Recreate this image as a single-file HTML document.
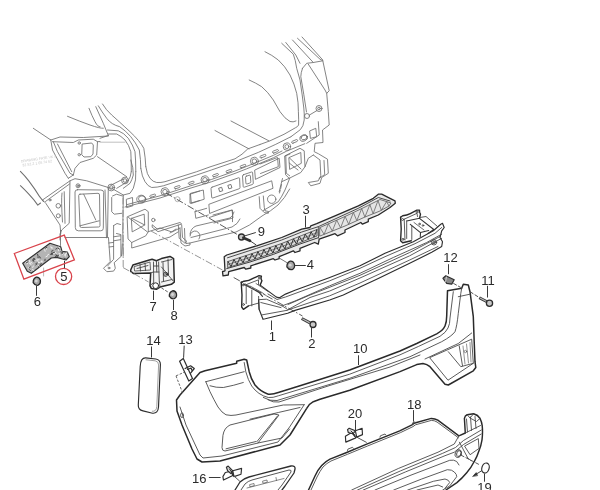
<!DOCTYPE html>
<html><head><meta charset="utf-8"><title>Rear bumper parts diagram</title>
<style>
html,body{margin:0;padding:0;background:#fff;}
body{width:600px;height:490px;overflow:hidden;position:relative;font-family:"Liberation Sans",sans-serif;}
svg{position:absolute;left:0;top:0;display:block;will-change:transform}
.b path,.b circle,.b ellipse,.b rect{fill:none;stroke:#6e6e6e;stroke-width:0.85;stroke-linecap:round;stroke-linejoin:round}
.m path,.m circle,.m ellipse,.m rect{fill:none;stroke:#4a4a4a;stroke-width:0.9;stroke-linecap:round;stroke-linejoin:round}
.m path.k{stroke:#2a2a2a;stroke-width:1.4}
.d path,.d circle,.d ellipse,.d rect{fill:none;stroke:#2e2e2e;stroke-width:1.1;stroke-linecap:round;stroke-linejoin:round}
.dash path{fill:none;stroke:#4a4a4a;stroke-width:0.9;stroke-dasharray:7 2 1.5 2}
.ld path{fill:none;stroke:#3a3a3a;stroke-width:1}
.r path,.r circle{fill:none;stroke:#d9434b;stroke-width:1.3}
text{font-family:"Liberation Sans",sans-serif;font-size:13px;fill:#2a2a2a;text-anchor:middle}
text.wm{font-size:3.6px;fill:#c4c4c4;text-anchor:start}
</style></head><body>
<svg width="600" height="490" viewBox="0 0 600 490">
<!-- 01_body_left.svgfrag -->
<g class="b">
<!-- quarter panel free lines -->
<path d="M33.3,128.3 L50.8,140"/>
<path d="M67.5,116.3 Q80,121.5 90,125 T103.3,128.3"/>
<path d="M89,108.3 Q92,116 95,121.7 T100,126.7"/>
<path d="M95.8,106.7 L103.3,123.3 L108.3,135.5"/>
<path d="M98.3,105.8 Q102,112 106.7,118.3 T119.7,126.7 Q132,135 139.3,150 Q140.8,160 140.8,168.3"/>
<path d="M102.5,104 Q106,110 111.7,115 T130,131.7 Q140,141 143.8,148.3 Q145.5,158 145.8,166.7"/>
<path d="M107.5,130 L118.3,130.8 Q124,133 128.3,138.3 Q133,145 135,151.7 Q135.8,160 135.8,171.7"/>
<path d="M108.3,134 L116.7,134 Q121,136 125,140 Q129,145 130.8,151.7 Q131.3,160 131.3,171.7"/>
<path d="M108.3,135.5 L100,138.3"/>
<path d="M100,142.2 L125,142.2" style="stroke:#b5b5b5"/>
<!-- bracket (upper) -->
<path d="M50.8,140 L60,137 L83.3,137.5 L108.3,136"/>
<path d="M52.5,141.7 L73.3,142.5 L78.3,140 L93.3,139.2 L97.5,141.7 L100,141.5"/>
<path d="M97.5,141.7 L96.7,155 L93.3,158.3 L80,162.5 L75,168.3 L73.3,175"/>
<path d="M97.5,156.7 L126.7,176.7"/>
<path d="M50.8,140 L52.5,150 L65,173.3 L68.3,178.3"/>
<path d="M53.3,141.7 L57.5,151.7 L70,173.3 L73.3,175"/>
<path d="M57.5,144 L71.7,171.7"/>
<path d="M68.3,178.3 L73.3,175"/>
<path d="M82.5,144 L91.7,143 L93.3,145 L93,154 L90.8,156.7 L84,157 L82,155 Z"/>
<circle cx="79.2" cy="143" r="1.2"/><circle cx="79.2" cy="154.7" r="1.2"/>
<!-- lower left arcs -->
<path d="M20.4,171.4 Q25,176 28.6,180.6 Q35,189 39.8,196.9 L43.5,201.5" style="stroke-width:1.05"/>
<path d="M20.4,185.7 Q25,190 28.6,193.9 Q33.5,199 37.8,205.1 L40.5,203" style="stroke-width:1.05"/>
<!-- tail light panel -->
<path d="M42.5,200 L70,180.8 L75,178.7 L86.7,180.8 L108.3,187.5 L111.7,188.3 L123.3,195 L122.8,230"/>
<path d="M45.5,201.5 L69.5,184"/>
<path d="M70,180.8 L69.2,223.3 L61.7,230 L60,234 L60,240"/>
<path d="M42.5,200 L45.8,203.3 L60,225 L60.8,233.3"/>
<path d="M77.5,189.7 L100.8,190 Q103.7,190 103.7,192.5 L103.3,228.3 Q103.3,230.8 100.8,230.8 L78.3,230.8 Q75.3,230.8 75.3,227.5 L75,192 Q75,189.7 77.5,189.7Z"/>
<path d="M80,194.2 L98,193.3 Q99.5,193.3 99.5,195 L100,225.5 Q100,227 98.5,227 L81.5,227.5 Q80,227.5 80,226 L78.7,195.5 Q78.7,194.2 80,194.2Z"/>
<path d="M83.7,194.2 L95.8,220"/>
<path d="M80,225.8 L99.2,220.8"/>
<path d="M108.3,187.5 L107.5,236.7"/>
<path d="M65.0,237.5 L108.3,237.5"/>
<path d="M112.5,196 L116.5,194.2 L122.5,196"/>
<path d="M111.7,197.5 L111.7,211.7 L114.2,214.2 L121.7,213.3"/>
<circle cx="78" cy="185.8" r="2"/><circle cx="78" cy="185.8" r="0.8"/>
<circle cx="111.3" cy="187.5" r="3.4"/><circle cx="111.3" cy="187.5" r="1.8"/>
<circle cx="125" cy="180.5" r="3.4"/><circle cx="125" cy="180.5" r="1.8"/>
<path d="M111.3,185 L123.3,179"/>
<circle cx="58.3" cy="205.8" r="2.3"/><circle cx="58.3" cy="215.8" r="2"/>
<circle cx="50" cy="200" r="1"/>
<path d="M64.2,191.7 L65,223.3"/>
<path d="M62,193 Q61,200 62.5,222"/>
<!-- pillar lower sweep -->
<path d="M130.8,160 Q133.5,168 133.3,175 Q132,180 130,183.3 L123.3,188.3"/>
</g>
<g transform="rotate(-8 21 162.5)"><text class="wm" x="21" y="162.5">DRAWING FATE VK 8</text><text class="wm" x="22" y="166.7">32 52.2 1 05 74 52</text></g>

<!-- 02_rear_panel.svgfrag -->
<g class="b">
<!-- left pillar bottoms merging into panel -->
<path d="M131.3,171.7 Q131,177 127.5,181.7 L116.7,188.3"/>
<path d="M135.8,171.7 Q136.5,180 133.3,188.3 L130,193.3 L123.3,195"/>
<path d="M145.8,166.7 Q147,175 150,178.3 Q153,182 156.7,182.5 Q161,182.8 165,181.7 L196.7,171.7 L210,166.9 L235,158.8 L242,154.2 L247.8,148.9 L260,144.5"/>
<path d="M140.8,168.3 Q142,177 145,181.7 Q148,186.5 151.7,187.5 Q157,187.5 163.3,185.8 L196.7,175 L211.7,169.9 L235,161.8 L258.3,152.4 L275.8,144.3 L291,136.7"/>
<!-- diagonal roof/glass lines -->
<path d="M215,130.5 L249,148.9"/>
<path d="M231,121 L268.8,140.8"/>
<!-- lower edge of upper strip -->
<path d="M127,204.6 L160,195.8 L190,186 L211.7,179.4 L235,171 L246.7,166.4 L273.5,155.3 L282,151"/>
<path d="M125,207 L160,198 L190,188.3 L211.7,181.7 L235,173.4 L246.7,168.8 L273.5,157.7 L286.3,151.3 L304.8,143.7"/>
<!-- circles on strip -->
<circle cx="165" cy="191.7" r="4"/><circle cx="165" cy="191.7" r="2.3"/>
<circle cx="205" cy="179.8" r="4"/><circle cx="205" cy="179.8" r="2.3"/>
<circle cx="254.4" cy="161.2" r="4"/><circle cx="254.4" cy="161.2" r="2.3"/>
<circle cx="286.9" cy="146.6" r="3.7"/><circle cx="286.9" cy="146.6" r="2"/>
<ellipse cx="141.3" cy="199.2" rx="4.6" ry="4"/><ellipse cx="142" cy="198.8" rx="3.5" ry="3"/>
<path d="M126.7,199.2 L132.5,197.5 L132.8,205.8 L127,207.5Z"/>
<!-- slots -->
<g style="stroke-width:0.7">
<path d="M151,197.3 l4,-1.3 a1,1 0 0 0 -0.6,-1.9 l-4,1.3 a1,1 0 0 0 0.6,1.9z"/>
<path d="M175.5,188.8 l4,-1.3 a1,1 0 0 0 -0.6,-1.9 l-4,1.3 a1,1 0 0 0 0.6,1.9z"/>
<path d="M189.5,184.4 l4,-1.3 a1,1 0 0 0 -0.6,-1.9 l-4,1.3 a1,1 0 0 0 0.6,1.9z"/>
<path d="M213.8,176.8 l4,-1.4 a1,1 0 0 0 -0.6,-1.9 l-4,1.4 a1,1 0 0 0 0.6,1.9z"/>
<path d="M227.2,172.7 l4,-1.4 a1,1 0 0 0 -0.6,-1.9 l-4,1.4 a1,1 0 0 0 0.6,1.9z"/>
<path d="M241.3,167.8 l4,-1.5 a1,1 0 0 0 -0.6,-1.9 l-4,1.5 a1,1 0 0 0 0.6,1.9z"/>
<path d="M261.3,157.9 l4,-1.6 a1,1 0 0 0 -0.7,-1.9 l-4,1.6 a1,1 0 0 0 0.7,1.9z"/>
<path d="M273.8,153.1 l4,-1.6 a1,1 0 0 0 -0.7,-1.9 l-4,1.6 a1,1 0 0 0 0.7,1.9z"/>
<path d="M293,143.2 l4,-1.7 a1,1 0 0 0 -0.7,-1.9 l-4,1.7 a1,1 0 0 0 0.7,1.9z"/>
</g>
<!-- rectangles on panel -->
<path d="M190.8,193.3 L203.3,190 L204.2,199.2 L191.7,203.3Z"/>
<path d="M212,187.2 L238.5,177.8 Q239.5,177.5 239.6,178.5 L240,187.5 Q240,188.5 239,188.8 L212.8,198 Q211.8,198.3 211.7,197.3 L211,188.5 Q211,187.5 212,187.2Z"/>
<rect x="219.5" y="187.6" width="2.8" height="3.6" transform="rotate(-18 221 189.5)"/>
<rect x="228.7" y="184.8" width="2.8" height="3.6" transform="rotate(-18 230 186.7)"/>
<path d="M243.5,174.7 L251.5,172 Q252.5,171.7 252.6,172.7 L253.3,183.2 Q253.3,184.2 252.3,184.5 L244.3,187.2 Q243.3,187.5 243.2,186.5 L242.5,176 Q242.5,175 243.5,174.7Z"/>
<path d="M246.3,176.2 L249.3,175.2 Q250.3,175 250.4,176 L250.8,181.8 Q250.8,182.8 249.8,183 L247,184 Q246,184.2 245.9,183.2 L245.5,177.3 Q245.5,176.5 246.3,176.2Z"/>
<path d="M255,170 L279.2,158.3 L280,167.5 L255.8,179.2Z"/>
<path d="M285.8,155.8 L290,154 M285.8,155.8 L286.3,173.3 L289.7,175.8"/>
<path d="M209.2,204.2 L271.7,180.8 L273,188.3 L210,213.3Z"/>
<path d="M195,211.7 L206.7,208.3 M195,211.7 L195.8,218.3 L208.3,215"/>
<path d="M209.2,217.5 L232.5,210 L232.5,221.7"/>
<circle cx="271.7" cy="199.2" r="4.2"/>
<circle cx="177.5" cy="199.2" r="2.5" style="stroke:#a5a5a5"/>
<path d="M259.2,196.7 L260,208.3 L264.2,212.5 L268.3,213.3 L268.5,211.5 L265,210.8 L264.3,207.5 L263.3,196"/>
<path d="M289.7,178.3 Q287.5,184 285,190 Q282,196.5 278.3,201.7 L263.3,210.5"/>
<path d="M282.5,178.5 l-0.8,3 M281.5,184.5 l-0.8,4 M280.3,190 l-0.8,3"/>
<!-- left square recess on panel -->
<path d="M127.5,216.7 L145,209.2 L148.3,211.7 L148.3,231.7 L145.8,235.8 L131.7,242.5 L128.3,239.2Z"/>
<path d="M131.7,218.3 L144.2,214.2 L144.7,225 L132.5,231.7Z"/>
<path d="M128.5,217.5 L147.5,232 M131.7,218.3 L144.7,225"/>
<!-- hook bracket -->
<circle cx="153.3" cy="220" r="1.7"/>
<path d="M152.5,225 L157.5,229.2 L180,222.5 L181.7,224 L158,231.7 L152.5,227.5Z"/>
<path d="M178.3,225 L179.2,238.3 L185,243.3 L187,241.5 L182.5,237.5 L181.7,225"/>
<!-- bottom right partial circle -->
<path d="M190,236 a5,5 0 1 1 9,3"/>
<path d="M190,194.2 L199.7,191 M190,194.2 L190,203.3 L199.7,200.5"/>
<!-- vertical left lower panel -->
<path d="M105,190 L106.5,237.8 M108.5,238 L110.2,261.6 L103.5,268.3 L106.9,271.7 L113.6,271.1 L115.3,268.3 L114.2,262.7 L121.5,256 L122.3,244"/>
<path d="M113.6,225.6 L113.6,259.3 L107.5,266 M113.6,225.6 L117,223.5 L120.5,224.5 M116.5,233.5 L120.9,234.6 L120.9,256 M108.8,243 L113.6,242.4 M109.2,247 L113.6,246.4 M113.6,236.8 L120.5,235.8 M113.6,240.8 L120.5,239.7"/>
<circle cx="109" cy="268" r="0.9"/>
<path d="M122.8,230 L123.2,256"/>
<!-- right area: big curves -->
<path d="M265,51.7 Q272,55 278.3,60 Q285,66 290,75 Q294.5,84 296.7,93.3 Q298.5,103 298.4,111.7 Q298.8,120 298.6,125 Q297.5,127 295.7,127.6 L284,134.3 L270,140.8 L260,144.5"/>
<path d="M281.7,43.3 L293.3,54.2 Q295.5,60 296.7,68.3 L300,80 Q302.5,96 303.8,108 Q304.5,114 304.2,120 Q303.5,126.5 300.3,129.7 L291,136.7"/>
<path d="M249.2,80 Q256,83 261.7,86.7 Q268,92 273.3,100 L280,111.7 Q285,119 290,121.5 Q293,122.5 296,121"/>
<!-- right pillar -->
<path d="M302.5,68.3 Q300.8,73 300.8,76.7 Q304,95 306.5,112"/>
<path d="M285.8,42.5 L295.8,55 L300,63.3"/>
<path d="M292.5,40 L313.3,62.5"/>
<path d="M297.5,38.3 L320,59.2 L322.8,60.8"/>
<path d="M302,37 L322.8,60"/>
<path d="M302.5,68.3 L306.7,63.3 L313.3,62.5 L322.8,60.8 L329.2,90.8 L326.7,93.3 L328.3,111.7 L329.2,125 L322.5,130 L323,142.5 L315,143.3 L314.2,151.7 L318.3,153.7 L327.5,159.2 L328.3,173.3 L321.7,177.5 L320,183.3 L310.8,185.8 L308.3,182.5 L318.3,180.8 L320.8,175.8 L320,160 L313.3,155"/>
<path d="M308.3,64.2 L325,90 L326.7,93.3"/>
<path d="M318.3,121.7 L319.2,135 L306.7,143.3"/>
<path d="M324,160.5 L324.7,174.5 L319,178.5"/>
<circle cx="319" cy="108.5" r="3"/><circle cx="319" cy="108.5" r="1.3"/>
<circle cx="307" cy="116" r="2.5"/>
<path d="M309.5,115 L317,110.5"/>
<path d="M310,130.8 L315.8,128.3 L316.7,136.7 L310.8,138.3Z"/>
<ellipse cx="303.7" cy="138" rx="4" ry="3" transform="rotate(-20 303.7 138)"/>
<ellipse cx="304.3" cy="137.6" rx="3" ry="2.2" transform="rotate(-20 303.7 138)"/>
<!-- right square recess -->
<path d="M285,155.8 L300,148.3 L304.2,150.8 L305,166.7 L300.8,172.5 L289.2,178.3 L285.8,175Z"/>
<path d="M289.2,157.5 L300.8,152.5 L301.3,163.3 L290,169.2Z"/>
<path d="M289.5,158 L301,169 M289.2,163 L298,170"/>
<path d="M260,164 L277.5,157.5 L278.3,166.7 L260.5,173.5"/>
<path d="M289.2,178.3 L281.7,181.7 L279.2,191.7"/>
<path d="M305,166.7 L308.3,158.3 L313.3,155"/>
</g>

<!-- 03_panel_bottom.svgfrag -->
<g class="b">
<path d="M148.3,231.7 L160,228 L172,232 L180,228"/>
<path d="M131.7,242.5 L131.7,248 L170,237 L178,232"/>
<path d="M190,243 L236,232 Q250,226 262,216 Q271,211 278,205 Q285,198 289.7,189"/>
<path d="M190,234 Q191,228 196,226 L230,218 Q233,216 234,212"/>
<path d="M191,237.5 L232,227 Q238,224 240,219"/>
<path d="M180,228 L181,243 L185,246 L190,245 L190,243 L186,243.5 L185,241 L184.5,228.5"/>
<path d="M213,215 L232,210 L233,218 L214,223"/>
<path d="M170,233 L176,229"/>
</g>
<g class="dash">
<path d="M166,193 L239,235.5"/>
<path d="M151,231 L222.5,270" style="stroke:#8a8a8a"/>
<path d="M123,197.5 L123.2,267.5" style="stroke:#8a8a8a"/>
<path d="M233.7,277.5 L302.5,316"/>
</g>

<!-- 04_part5.svgfrag -->
<g class="b">
<path d="M60.5,230.5 L60.5,245.5"/>
<path d="M43.6,268 L43.6,276" style="stroke:#aaa"/>
</g>
<g class="d">
<path d="M22.7,263.3 L50,243.3 L60.7,246.7 L62,251.3 L67.3,252 L69.3,256.7 L66,260 L56.7,257.3 L51.3,258 L31.3,273.3 L27.3,271.3Z" style="fill:#b4b4b4;stroke:#333;stroke-width:1.2"/>
<path d="M58.8,249.1 l-0.2,1.6 M26.6,261.1 l-0.8,1.4 M46.2,247.7 l0.1,1.6 M41.7,260.8 l0.3,1.6 M35.4,258.8 l0.1,1.6 M31.2,262.0 l1.0,1.2 M38.7,265.5 l0.9,1.4 M33.3,266.0 l-0.6,1.5 M59.1,253.6 l1.0,1.3 M29.4,263.6 l1.4,0.7 M59.9,255.7 l-1.6,0.1 M44.7,249.7 l0.4,1.5 M32.4,269.6 l1.4,0.7 M66.8,252.7 l-0.8,1.4 M55.0,253.0 l-1.5,0.5 M50.9,246.6 l0.7,1.5 M48.7,254.3 l-1.3,1.0 M47.3,256.1 l-1.4,0.7 M29.4,269.7 l1.4,0.8 M39.0,259.6 l-1.5,0.5 M36.9,259.1 l0.1,1.6 M63.3,253.5 l-1.2,1.1 M59.4,253.5 l-0.8,1.4 M28.2,267.7 l1.4,0.8 M65.5,253.8 l-0.4,1.6 M38.1,262.0 l1.5,0.5 M30.2,262.6 l0.8,1.4 M29.6,260.3 l0.0,1.6 M28.0,262.5 l-0.8,1.4 M62.7,252.2 l-1.6,0.4 M42.3,261.3 l-1.5,0.5 M55.2,252.1 l1.2,1.1 M38.5,262.4 l-1.6,0.0 M64.9,254.6 l0.5,1.5 M61.0,251.0 l0.4,1.5 M52.3,254.2 l-1.6,0.2 M51.1,247.7 l1.6,0.3 M58.8,247.1 l1.2,1.1" style="stroke:#f2f2f2;stroke-width:0.9;fill:none"/>
<path d="M30.2,266.9 l-0.8,1.3 M33.9,258.9 l1.3,0.7 M46.8,247.4 l-1.3,0.7 M29.5,269.6 l1.0,1.1 M41.5,263.8 l-1.4,0.6 M37.6,254.3 l0.4,1.5 M33.1,259.4 l0.1,1.5 M57.1,248.3 l-1.3,0.8 M27.9,262.0 l-1.4,0.4 M37.4,262.8 l-1.4,0.5 M53.0,250.6 l-1.4,0.6 M54.5,252.3 l-1.4,0.5 M52.7,253.1 l-1.3,0.7 M60.9,251.5 l0.5,1.4 M36.9,264.0 l-1.2,0.9 M55.2,256.2 l1.3,0.8 M58.6,254.9 l-0.6,1.4 M62.7,252.3 l-0.6,1.4 M33.5,258.8 l1.5,0.1 M64.0,258.2 l1.4,0.5 M39.1,257.1 l-1.5,0.0 M58.2,248.2 l1.2,0.9 M51.9,254.3 l-1.5,0.0 M45.1,259.2 l-0.2,1.5 M40.0,265.7 l-1.3,0.7 M32.8,260.4 l1.2,0.9 M51.7,253.0 l0.6,1.4 M55.8,254.9 l1.4,0.6 M39.7,256.7 l0.7,1.3 M56.4,255.7 l1.4,0.5" style="stroke:#3a3a3a;stroke-width:0.9;fill:none"/>
<path d="M33.2,282.7 Q33.0,278.6 36.3,277.2 Q39.5,277.0 40.4,280.4 Q40.8,284.0 38.1,285.2 Q35.0,285.8 33.2,282.7Z" style="fill:#a8a8a8;stroke:#2a2a2a;stroke-width:1.3"/><circle cx="36.3" cy="281.0" r="1.4" style="fill:#d8d8d8;stroke:none"/>
</g>
<g class="ld">
<path d="M36.5,285.7 L36.5,295.8"/>
<path d="M64.5,260.8 L64.5,268.4"/>
</g>
<g class="r">
<path d="M14.3,253.5 L64.3,235.1 L74.4,259.9 L23.9,279.2Z"/>
<circle cx="63.6" cy="276.4" r="8.1"/>
</g>
<text x="63.8" y="281">5</text>
<text x="37.3" y="306.1">6</text>

<!-- 05_part7.svgfrag -->
<g class="d">
<path d="M130.7,270 L132.9,265 L149.3,260 L152.1,259.3 L156.4,260.7 L161.4,258.6 L170,256.4 L173.6,258.6 L174.3,282.1 L171.4,284.3 L160,287.1 L156.4,289.3 L151.4,288.6 L150,285.7 L150.7,272.9 L133.6,273.6 L130.7,271.4Z" style="stroke-width:1.5;stroke:#2b2b2b;fill:#f3f3f3"/>
<path d="M134.5,266.5 L150,262 L150.5,270 L135,271Z" style="stroke-width:0.9;stroke:#555"/>
<path d="M137,268.5 L148,265.5 M153.5,262 L153.7,285 M158.6,262 L159.3,282.1 M161.5,267 L172.9,280.7 M161.4,262 L172,259.5 M161.5,282 L172,279.5 M154,272 L159,272" style="stroke-width:0.9;stroke:#4a4a4a"/>
<path d="M150.7,272.9 L153.5,272 M156.4,260.7 L156.8,272 M150,285.7 L153,283 M160,287.1 L159.5,282 M163,262.5 L163.5,281 M168,259 L168.5,275 M140,264.5 L140.5,271 M145,263 L145.5,270.5 M153.6,266 L158.6,266" style="stroke-width:0.9;stroke:#444"/>
<circle cx="155.7" cy="285.7" r="2.9" style="stroke-width:1;fill:#fff"/>
<circle cx="165.7" cy="274.3" r="2.1" style="stroke-width:0.9"/>
<circle cx="165.7" cy="274.3" r="0.9" style="stroke-width:0.7"/>
<path d="M169.3,296.2 Q169.1,292.1 172.5,290.8 Q175.6,290.5 176.5,293.9 Q177.0,297.5 174.2,298.7 Q171.1,299.3 169.3,296.2Z" style="fill:#a8a8a8;stroke:#2a2a2a;stroke-width:1.3"/><circle cx="172.5" cy="294.5" r="1.4" style="fill:#d8d8d8;stroke:none"/>
</g>
<g class="ld">
<path d="M153.5,290.7 L153.5,300.0"/>
<path d="M173.5,300.0 L173.5,310.0"/>
<path d="M161.4,287.9 L169.3,292.9" style="stroke-dasharray:3 1.5;stroke:#666"/>
</g>
<g class="dash"><path d="M123,267.5 L148.6,282" style="stroke:#8a8a8a"/></g>
<text x="153.2" y="311.2">7</text>
<text x="174" y="320.4">8</text>

<!-- 06_part3.svgfrag -->
<g class="d">
<path d="M224.2,256.7 L226.7,255 L256.7,245.8 L281.7,237.5 L301.7,229.2 L310,227.5 L310.8,225.8 L316.7,223.7 L335,215.8 L358.3,205.8 L373.3,198.3 L378.3,194.2 L381.7,194.2 L390,198.3 L395,200.8 L395.3,203.3 L390,207.5 L378.3,215 L368.3,219.2 L368.3,221.7 L362.5,224.2 L360.8,222.5 L345,230 L345,232.5 L337.5,235.8 L335,233.7 L319.2,239.2 L318.3,244.2 L314.7,242.5 L300,248.3 L300,250.8 L295,252.5 L293.3,250.8 L279.2,256.7 L279.2,258.7 L275,260 L273.3,258.7 L250.8,265.8 L250.8,268 L245.8,269.2 L244.2,267.5 L228.7,271.7 L228.3,275 L223,275.8 L222.5,271.7 L225,270.8Z" style="fill:#e9e9e9;stroke:#2a2a2a;stroke-width:1.3"/>
<path d="M227.5,257.8 L256.7,248.3 L281.7,240 L301.7,232 L318.3,226.7 L358.3,208.3 L378.3,197.5 L390,201" style="stroke-width:0.9;stroke:#3a3a3a"/>
<path d="M226.7,268.6 L250,262 L273.3,254.4 L300,244 L318,237.8" style="stroke-width:1;stroke:#3a3a3a"/>
<path d="M228,261.5 L256.7,252 L281.7,243.5 L301.7,235.5 L317,229.5 L317,236 L301.7,242 L281.7,250 L256.7,258.5 L228,267.5Z" style="fill:#dcdcdc;stroke:#444;stroke-width:0.8"/>
<path d="M228.0,261.5 L231.0,266.6 L234.0,259.5 L237.0,264.7 L240.0,257.5 L243.0,262.8 L246.0,255.6 L249.0,260.9 L252.0,253.6 L255.0,259.0 L257.9,251.6 L261.0,257.0 L263.9,249.5 L267.0,255.0 L269.9,247.5 L272.9,253.0 L275.9,245.5 L278.9,251.0 L281.8,243.5 L284.8,248.8 L287.7,241.1 L290.6,246.4 L293.5,238.8 L296.5,244.1 L299.4,236.4 L302.3,241.7 L305.3,234.1 L308.2,239.4 L311.1,231.8 L314.1,237.1 L317.0,229.5" style="stroke-width:1;stroke:#333"/>
<path d="M228,264.5 L256.7,255.2 L281.7,246.7 L301.7,238.7 L317,232.7" style="stroke-width:0.7;stroke:#555"/>
<path d="M320,227.5 L345,216.5 L365,207 L380,199.5 L391,203 L389,206 L380,211 L365,217 L345,226 L320,236Z" style="fill:#e4e4e4;stroke:#555;stroke-width:0.8"/>
<path d="M320.0,227.5 L324.1,234.4 L328.4,223.8 L332.3,231.1 L336.7,220.1 L340.6,227.8 L345.1,216.4 L348.7,224.3 L353.4,212.5 L356.8,220.7 L361.7,208.6 L364.9,217.1 L369.9,204.6 L373.1,213.8 L378.0,200.5 L381.3,210.3 L386.6,201.6 L389.0,206.0" style="stroke-width:0.8;stroke:#666"/>
<path d="M318.3,226.7 L318.5,238" style="stroke-width:0.9;stroke:#444"/>
</g>
<g class="d">
<circle cx="241.5" cy="237" r="3" style="fill:#c8c8c8;stroke-width:1.3"/>
<path d="M243.3,237.7 L250,240.8" style="stroke-width:2.6;stroke:#333"/>
<path d="M250,240.8 L256,244.8" style="stroke-width:0.9"/>
<path d="M286.9,266.9 Q286.7,262.6 290.2,261.2 Q293.6,260.9 294.5,264.6 Q295.0,268.4 292.1,269.6 Q288.8,270.2 286.9,266.9Z" style="fill:#a8a8a8;stroke:#2a2a2a;stroke-width:1.3"/><circle cx="290.2" cy="265.2" r="1.4" style="fill:#d8d8d8;stroke:none"/>
<path d="M286.7,262.5 L279.2,258" style="stroke-width:0.8;stroke:#555"/>
</g>
<g class="ld">
<path d="M245,235.8 L255.8,232.5"/>
<path d="M294.7,265.5 L305.8,265.5"/>
<path d="M305.5,215.8 L305.5,227.5"/>
</g>
<text x="261.3" y="235.8">9</text>
<text x="310.3" y="269.2">4</text>
<text x="306.2" y="213.7">3</text>

<!-- 07_beam.svgfrag -->
<g class="m">
<!-- left plate -->
<path d="M241.2,282.3 L244,281.2 Q249,281 253,278.4 L259.1,275.6 L261.4,276.2 Q260.5,279 261.9,280.7 L260.2,285.1" class="k"/>
<path d="M241.2,282.3 Q242.5,295 241.7,307 L243.4,309.3 L248.5,305.9" class="k"/>
<path d="M243.4,284 L259.1,292.4 L262.5,296.4" style="stroke:#333;stroke-width:1.1"/>
<path d="M246.2,285.7 L246.2,303.6 M251.8,290 L251.8,305.9 M258.6,296.4 L259.1,309.3"/>
<path d="M246.5,284.5 L258.5,279.8 L258.5,284.5 M248.5,305.9 L258.8,303"/>
<path d="M250,286 L262,292.5 L266,295.5 M256,283.5 L268,291.5" style="stroke-width:0.8"/>
<circle cx="243.2" cy="285" r="0.9"/><circle cx="243.6" cy="304.5" r="0.9"/><circle cx="259.3" cy="278" r="0.9"/>
<!-- beam long lines -->
<path d="M260.2,285.1 L275.4,296.4 Q277.5,297.8 279.9,297.5 L285.5,294.1 L295,290.2 L329.7,277.5 L360,265.8 L385,253.3 L413.3,241.7 L433.3,230.8 L440.8,224.2 L442.5,223.3 L444.2,227.5 L441.7,230.8 L440,237.5 L442.5,241.7 L441.7,246.5 L431.7,252.3 L409.7,263.3 L376.7,279.2 L360,287 L343.3,295 L329.7,300 L295,310.4 L287.7,313.2 L265.3,318.8 L263,319.3 L259.1,309.3 L258.6,299.7" style="stroke:#2e2e2e;stroke-width:1.15"/>
<path d="M268,294 L277,299.5 L285.5,297 L329.7,280.8 L360,268.3 L385,256.7 L415,243.7 L435,233.3 L441.7,227.5"/>
<path d="M258.6,299.7 L266.4,299.2 L282.1,305.9 L286.6,308.7 M282.1,305.9 L295,301 L329.7,285.8 L360,273.3 L393.3,257.5 L426.7,242.5 L441.7,234.2"/>
<path d="M260.8,302.5 L281,307.6 M286.6,310.4 L310,297.5 L329.7,291 L360,278 L409.7,255.8 L441.7,238.3"/>
<path d="M288,304.5 L310,295 L360,275.3 L409.7,252.5 L440,236.5"/>
<path d="M261.9,314.9 L286.6,310.4 L310,302.5 L329.7,295.8 L360,283 L409.7,260 L438,246.5"/>
<circle cx="434" cy="242.3" r="2.7"/><circle cx="434" cy="242.3" r="1.3"/>
<!-- right plate -->
<path d="M400.6,217.3 L402.7,215.8 Q407,215.5 410.3,213.7 L416.9,210.1 L419.5,210.1 Q419.2,212.5 420.5,214.2 L419.5,218.3" class="k"/>
<path d="M400.6,217.3 Q401.8,229 400.6,240.8 L402.7,242.8 L411.3,240.8" class="k"/>
<path d="M404.2,219.2 L405,240 M404.2,219.2 L417,213.3 L417.5,216.5"/>
<path d="M406.7,220.9 L419.5,218.3 L433.8,229.5 L428,233.5" style="stroke:#333;stroke-width:1.05"/>
<path d="M406.7,220.9 L406.7,238.5 M411.8,226 L411.8,239.5"/>
<path d="M410.3,224.4 L420.5,232.6 L428.7,230.6 M420.5,232.6 L420.3,236.5" style="stroke:#333;stroke-width:1.05"/>
<path d="M420,217.5 L426,216.5 L437.5,226.5"/>
<path d="M414,222.5 L424,230" style="stroke-width:0.8"/>
<circle cx="402.6" cy="219.5" r="1"/><circle cx="403" cy="239.3" r="1"/><circle cx="417" cy="212" r="1"/>
<circle cx="419.5" cy="224" r="0.8"/><circle cx="423" cy="225.5" r="0.8"/>
</g>
<g class="d">
<!-- bolt 2 -->
<path d="M301.7,318.5 L310,322.9" style="stroke-width:3;stroke:#333;stroke-linecap:butt"/><path d="M302.3,318.8 L310,322.9" style="stroke-width:1.2;stroke:#bbb;stroke-linecap:butt"/>
<circle cx="313" cy="324.5" r="3" style="fill:#c8c8c8;stroke-width:1.3"/>
</g>
<g class="ld">
<path d="M271.5,320.5 L271.5,330"/>
<path d="M311.5,327.5 L311.5,337.5"/>
<path d="M448.5,264.2 L448.5,274.2"/>
</g>
<text x="272.3" y="340.8">1</text>
<text x="311.9" y="348.3">2</text>
<text x="450.5" y="262.4">12</text>

<!-- 08_bumper.svgfrag -->
<g class="m">
<!-- outer dark outline -->
<path d="M176.5,400 L180,395 L200,372.5 L205,370.8 L236.7,363.3 L236.7,361.3 L244.2,359.2 L246.7,360 L249.2,371.7 Q251,379 255,385 Q261,392 268.3,394.2 Q273,394.6 278.3,392.5 L300,385.8 L349.7,370 L400,351 L416.7,343.5 L436.7,333.8 Q443,330.5 445,326 Q446.7,322 446.7,316 L447.5,290.8 L461.7,288.3 L463.3,284.2 L468.3,285 L470,291.7 L473.3,316.7 L474.2,341.7 L475,361.7 L475.8,367.5 L473.3,370.8 L448.3,385 L445,384.2 L430,366.7 Q427,364.2 423,363.6 L416.7,364.6 L400,371.6 L349.7,390.3 L320,399.2 L313.3,401.7 Q309,404 306.7,408.3 L290,435 L280,445 L220,461 L202,462 L197,459 L192,449 L182,425 L177,411 Z" style="stroke:#2a2a2a;stroke-width:1.5"/>
<!-- inner lines along top -->
<path d="M244.2,362.5 L245.8,371.7 Q248,380 251.7,386 Q258,395 268.3,397.5 Q273,398 278.3,395.8 L349.7,374.2 L400,354.8 L418.3,346.5 L440,336.3 Q446,332.5 448,328 Q450,324 450,318 L453.3,291.7"/>
<path d="M263.3,397.5 Q270,401.5 277,400.5 L349.7,378.3 L410,356.7 L441.7,341.7 Q452,336 455,331.7 Q457,326 458.3,313.3 L460.8,293.3 L461.7,288.3"/>
<path d="M425,359 L458.3,343.5 L471.7,333"/>
<path d="M268,399.8 Q273,402.8 279,402 L330,385.4 L390,367 L420,355"/>
<path d="M458.3,296.7 L470,294.2"/>
<!-- left side inner -->
<path d="M180,407 L186,425 L200,455 L203,458 L222,456 L278,442 L289.6,427 L304.2,404.7"/>
<path d="M205.8,381.7 L244.2,371.7"/>
<path d="M205.8,381.7 L210,391.7 Q214,400 218,407 Q222,413 226,414.8 Q231,416 236,415 L283.3,405 L304.2,404.7"/>
<path d="M210,385.8 Q216,387.8 223.3,387.5 Q234,385.5 243.3,382.5"/>
<path d="M223,435 Q224,428 230,425 L274,414 L279,415 L258,443 L225,451 Q222,451 222,448Z"/>
<path d="M226,448.8 L256,441.5 M277.5,416 L257,441.5"/>
<path d="M258,443 L282,438 L289.6,429"/>
<path d="M250,419.2 L278.3,412.5 L300,407.5"/>
<ellipse cx="182" cy="415.2" rx="1.4" ry="2.4"/>
<!-- right corner recess -->
<path d="M430,357.5 L471.7,339.2 L473.3,363.3 L448.3,380Z"/>
<path d="M448.3,351.7 L460.8,366.7 L473.3,363.3 M459.2,345.8 L462.5,365.8"/>
<path d="M463,346 L465,364 M466.5,344 L468.5,363 M470,342.5 L471,362" style="stroke-width:0.6"/>
<circle cx="465.5" cy="351.5" r="1.2" style="stroke-width:0.6"/>
</g>

<!-- 09_part18.svgfrag -->
<g class="m">
<path d="M308.5,490 L315,476 Q318,469.5 321.7,465.5 Q325.5,461.5 330,459.2 L346.7,452.5 L366.7,444.2 L399.7,430.8 L412,424.8 L414.8,423 L431.3,418.4 Q435,418.4 437.8,420.2 L458.9,435.8 L465.3,433 L464.4,418.4 Q465,415.5 467.1,414.7 L473.6,413.8 Q478,415 480,418.4 Q481.8,422 482.2,425.7 Q482.9,433 482,439.8 Q481,446 479,450.8 Q477,457 474.1,461.8 Q471,468 466.7,472.8 Q462,478.5 456.9,482.6 L445.9,490" style="stroke:#2a2a2a;stroke-width:1.45"/>
<path d="M311,490 L317,477 Q320,471 323,467 Q327,463 331,461 L347.5,454.3 L367.5,446 L400.5,432.6 L413,426.6 L415.5,424.8 L431.3,420.4 Q434.5,420.4 437,422 L458.5,437.8"/>
<path d="M347.5,450.5 l0.4,-1.4 l4.6,-1.8 l0.8,1" /><path d="M380,437.2 l0.4,-1.4 l4.6,-1.8 l0.8,1"/><path d="M412.3,424.5 l0.2,-1.6 l2.6,-1 l0.5,1"/>
<path d="M458.9,435.8 L454.3,444 L438,452.2 L398.3,468.5 L351.7,490"/>
<path d="M481.3,430 L463.5,440.5 L455.5,447.5 L442.7,453.3 L400.7,470.8 L357.5,490"/>
<path d="M481.2,434 L463.5,444.5 L454.3,452.2 L445,455.7 L405.3,472 L363.3,490"/>
<path d="M375,490 L410,475.5 L449.7,460.3 Q454,459.5 456.7,461.5 L459,465"/>
<path d="M393.7,490 L421.7,479 L447.3,469.7 Q452,469.5 454.3,472 Q457,474.5 456.7,476.7 L449.7,486 L442.7,490"/>
<path d="M407.7,490 L433.3,481.3 L445,479 Q449,479.8 449.7,482.5 L445,488.3"/>
<path d="M417,490 L438,485 L442.7,487"/>
<path d="M464.9,445.9 L478.3,438.6 L479,448.4 L470.4,454.5Z"/>
<path d="M459.4,442.2 L467.9,458.2 L471,460.6"/>
<path d="M466.5,419 L467.5,432 M470.5,417 L471.5,430.5 M475,416.5 L476,428.5 M467.1,414.7 L470,418 L473.6,413.8 M470,418 L476.5,421.5 L480,418.4"/>
<path d="M465.3,433 L480.5,425.5"/>
<ellipse cx="458.3" cy="453.6" rx="3" ry="4" transform="rotate(20 458.3 453.6)"/>
<ellipse cx="458.8" cy="453.4" rx="2.1" ry="3" transform="rotate(20 458.3 453.6)"/>
</g>
<g class="d">
<ellipse cx="485.5" cy="468" rx="3.6" ry="5.1" transform="rotate(18 485.5 468)" style="stroke-width:1.2"/>
<path d="M481.8,470.7 L474.5,475.2" style="stroke-width:0.9"/>
<path d="M472.8,476.3 L476.2,472.6 L477.5,475.3Z" style="fill:#2e2e2e;stroke-width:0.6"/>
</g>
<g class="ld">
<path d="M460.7,455 L480,465" style="stroke-dasharray:4 1.5;stroke:#555"/>
<path d="M484.5,473.5 L484.5,481.7"/>
<path d="M413.5,410.1 L413.5,421.7"/>
<path d="M355.5,420.0 L355.5,430.0"/>
<path d="M356.7,437.1 L366.7,442.5" style="stroke:#555"/>
</g>
<g class="d">
<path d="M345.4,436.3 L350.4,433.3 L352.9,433.8 L355.8,437.9 L345.8,442.1Z" style="fill:#fff;stroke-width:1.15"/>
<path d="M355.4,430.8 L362.1,428.3 L362.5,434.6 L356.7,437.1Z" style="fill:#fff;stroke-width:1.15"/>
<path d="M347.5,429.6 L349.2,428.3 L355.4,430.8 L352.9,433.8 L348.3,432.5Z" style="fill:#ddd;stroke-width:1.15"/>
<path d="M352.9,433.8 L356.7,437.1 M351,431 L354.5,434.5" style="stroke-width:1"/>
</g>
<text x="414.2" y="408.5">18</text>
<text x="355" y="417.9">20</text>
<text x="484.6" y="492.2">19</text>

<!-- 10_small.svgfrag -->
<g class="d">
<!-- part 14 reflector -->
<path d="M145.7,357.9 L155.8,359 Q160.4,359.8 160.4,364.5 L158.5,407 Q158,413.8 152.5,413.2 L143,410.9 Q138,409.8 138.3,405 L140.2,366.5 Q140.6,357.6 145.7,357.9Z" style="stroke-width:1.15"/>
<path d="M146,359.8 L155.2,360.8 Q158.6,361.3 158.6,365 L156.8,406.5 Q156.4,411.8 152.3,411.3" style="stroke-width:0.7;stroke:#777"/>
<!-- clip 13 -->
<path d="M179.6,361.2 L183.3,358.4 L192.5,378.6 L188.8,381Z" style="fill:#fff;stroke-width:1.2"/>
<path d="M185.1,368.5 L190.6,365.8 L194.3,368.5 L190.6,373.1 M187.5,369.5 L191,368 L192,370.5" style="stroke-width:1.2"/>
<!-- clip 16 -->
<path d="M222.9,476.6 L225.3,472.5 L231.1,471.3 L232.8,475.4 L223.5,480.1Z" style="fill:#fff;stroke-width:1.15"/>
<path d="M232.8,470.8 L241.6,468.4 L241,474.3 L234,476.6Z" style="fill:#fff;stroke-width:1.15"/>
<path d="M226.4,467.3 L228.2,466.1 L232.8,470.8 L231.1,473.7 L227.6,470.8Z" style="fill:#ddd;stroke-width:1.15"/>
<path d="M231.1,471.3 L234,476.6 M229.5,469 L232.5,473" style="stroke-width:1"/>
<!-- clip 12 -->
<path d="M443,278.3 L445.8,275.8 L454.2,279.7 L451.7,284.2 L446.7,283.3Z" style="fill:#8a8a8a;stroke-width:1.2"/>
<path d="M446.5,277 L445.5,282" style="stroke-width:0.8;stroke:#ddd"/>
<!-- bolt 11 -->
<path d="M479.3,297.7 L487,301.8" style="stroke-width:2.8;stroke:#333;stroke-linecap:butt"/><path d="M480,298 L487,301.8" style="stroke-width:1.1;stroke:#bbb;stroke-linecap:butt"/>
<circle cx="489.5" cy="303.3" r="3.1" style="fill:#c8c8c8;stroke-width:1.3"/>
<!-- reflector housing -->
<path d="M235,490 L240,482 Q243.5,478.5 249,477 L291,466 Q295.5,465.5 295,469 L294,473 L285,486 L282,490" style="stroke-width:1.3"/>
<path d="M241,490 L245,484 Q248,481 252,480 L289,470 Q291.8,469.8 291,472 L282,485 L278,490" style="stroke-width:0.9;stroke:#444"/>
<path d="M250,484.5 l4,-1 l0.3,2.2 l-4,1z M263,481 l4,-1 l0.3,2.2 l-4,1z M247,488 L284,478.5 M276,477.5 l0.5,3" style="stroke-width:0.7;stroke:#555"/>
</g>
<g class="ld">
<path d="M151.5,346.5 L151.5,357.5"/>
<path d="M184.2,345.6 L183.6,357.8"/>
<path d="M176,375.9 L184.2,372.2 M176,375.9 L182.4,392.4" style="stroke-dasharray:2.5 1.5;stroke:#666"/>
<path d="M208.9,477.5 L220.6,477.5"/>
<path d="M234,476 L239.8,481.3" style="stroke:#555"/>
<path d="M487.5,285.8 L487.5,297.5"/>
<path d="M453.3,283.3 L460.8,287.5 M470,291.7 L479.2,297.5" style="stroke-dasharray:4 1.5;stroke:#555"/>
<path d="M358.5,355.3 L358.5,365"/>
</g>
<text x="153.4" y="344.7">14</text>
<text x="185.6" y="344.3">13</text>
<text x="199.3" y="483.2">16</text>
<text x="488" y="285.4">11</text>
<text x="360.3" y="353">10</text>

</svg>
</body></html>
